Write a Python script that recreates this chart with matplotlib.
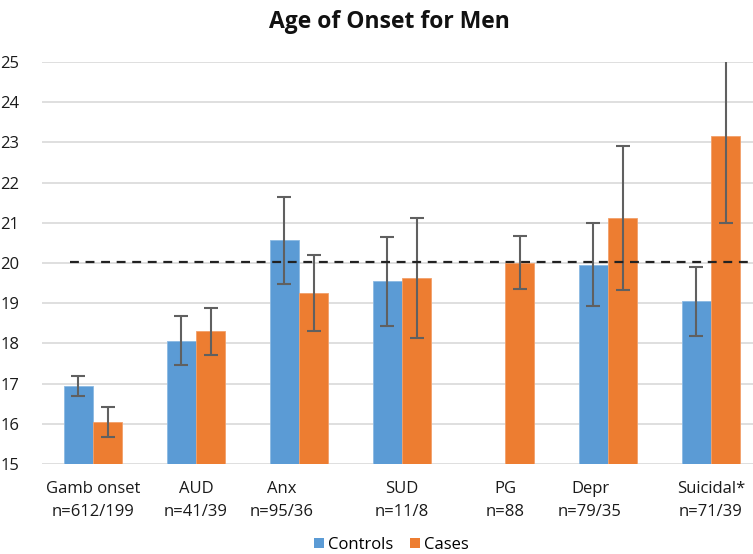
import matplotlib
matplotlib.use("Agg")
import matplotlib.pyplot as plt
import matplotlib.transforms as mtransforms
from matplotlib.patches import Patch
import numpy as np

categories = ["Gamb onset\nn=612/199", "AUD\nn=41/39", "Anx\nn=95/36", "SUD\nn=11/8",
              "PG\nn=88", "Depr\nn=79/35", "Suicidal*\nn=71/39"]
controls = [16.93, 18.07, 20.56, 19.54, np.nan, 19.96, 19.05]
controls_err = [0.25, 0.60, 1.08, 1.11, np.nan, 1.03, 0.86]
cases = [16.04, 18.30, 19.25, 19.63, 20.01, 21.12, 23.17]
cases_err = [0.38, 0.58, 0.94, 1.49, 0.65, 1.78, 2.18]
reference_line = 20.03

plt.rcParams['font.family'] = ['Open Sans', 'DejaVu Sans']

fig = plt.figure(figsize=(7.53, 5.54), dpi=100)
ax = fig.add_axes([41.5 / 753, 90 / 554, 721 / 753, 402 / 554])

x = np.arange(len(categories))
w = 0.286
blue = "#5B9BD5"
orange = "#ED7D31"
ekw = dict(ecolor="#606060", elinewidth=1.5, capsize=5, capthick=1.5)

ax.bar(x - w / 2, controls, w, color=blue, edgecolor="#8bb9e3", linewidth=0.6,
       yerr=controls_err, error_kw=ekw, label="Controls", zorder=3)
ax.bar(x + w / 2, cases, w, color=orange, edgecolor="#f2a06a", linewidth=0.6,
       yerr=cases_err, error_kw=ekw, label="Cases", zorder=3)

ax.hlines(reference_line, -0.223, 6.36, colors="#222222", linestyles=(0, (4, 3)),
          linewidth=1.6, zorder=4)

ax.set_xlim(-0.5, 6.5)
ax.set_ylim(15, 25)
ax.set_yticks(np.arange(15, 26, 1))
ax.yaxis.grid(True, color="#d9d9d9", linewidth=1.2, zorder=0)
ax.set_axisbelow(True)
for s in ax.spines.values():
    s.set_visible(False)
ax.tick_params(axis="y", length=0, pad=16, labelsize=12, labelcolor="#1a1a1a")
ax.tick_params(axis="x", length=0, pad=12, labelsize=12, labelcolor="#1a1a1a")
ax.set_xticks(x)
ax.set_xticklabels(categories, linespacing=1.65)

label_shift = {2: -17, 5: -18}
for i, lab in enumerate(ax.get_xticklabels()):
    if i in label_shift:
        off = mtransforms.ScaledTranslation(label_shift[i] / 100, 0, fig.dpi_scale_trans)
        lab.set_transform(lab.get_transform() + off)

fig.text(389 / 753, 1 - 22 / 554, "Age of Onset for Men", ha="center", va="center",
         fontsize=16.5, fontweight="bold", color="#111111")

labels = ["Controls", "Cases"]
leg_handles = [Patch(facecolor=blue), Patch(facecolor=orange)]
fig.legend(leg_handles, labels, loc="center", bbox_to_anchor=(391 / 753, 1 - 545 / 554),
           ncol=2, frameon=False, fontsize=12, handlelength=0.6, handleheight=0.6,
           handletextpad=0.25, columnspacing=1.0)

fig.savefig("out.png", dpi=100)
